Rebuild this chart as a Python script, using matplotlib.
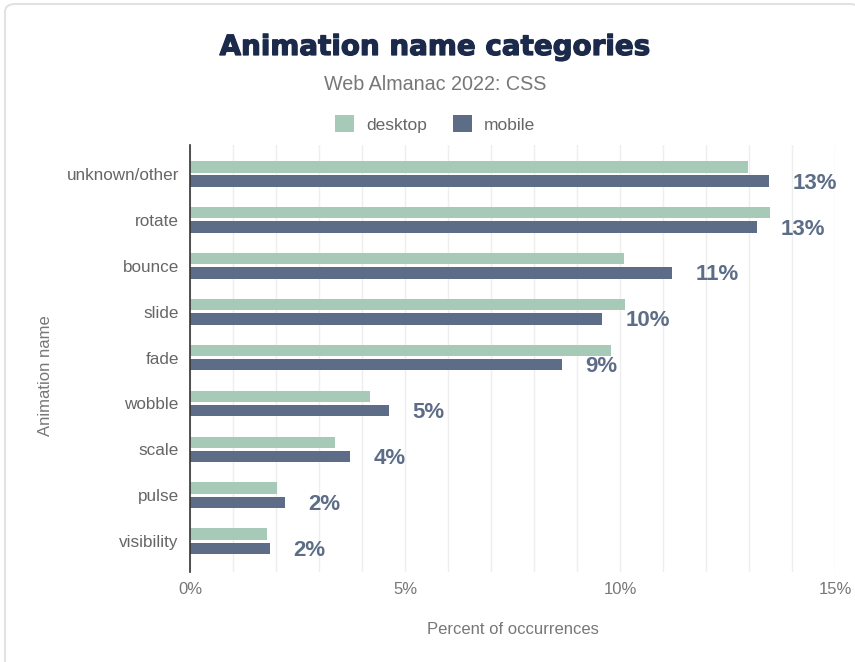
import matplotlib
matplotlib.use("Agg")
import matplotlib.pyplot as plt
import matplotlib.patheffects as pe
from matplotlib.patches import FancyBboxPatch, Patch
import numpy as np

categories = ["unknown/other", "rotate", "bounce", "slide", "fade",
              "wobble", "scale", "pulse", "visibility"]
desktop = [12.98, 13.49, 10.09, 10.11, 9.78, 4.19, 3.38, 2.02, 1.79]
mobile = [13.47, 13.19, 11.20, 9.58, 8.65, 4.62, 3.73, 2.21, 1.85]
xticks = [0, 5, 10, 15]
xtick_labels = ["0%", "5%", "10%", "15%"]

DESKTOP_C = "#a7c9b8"
MOBILE_C = "#5d6d88"
TEXT_C = "#777777"
FONT = ["Liberation Sans", "DejaVu Sans"]

plt.rcParams["font.family"] = FONT

W, H = 855, 662
fig = plt.figure(figsize=(W / 100, H / 100), dpi=100)

# card border
fig.patches.append(FancyBboxPatch((5 / W, -0.05), 1.0, 1.05 - 4 / H,
                                  boxstyle="round,pad=0,rounding_size=0.012",
                                  transform=fig.transFigure, facecolor="white",
                                  edgecolor="#e2e2e2", linewidth=1.5, zorder=-10))

left, right = 190 / W, 835 / W
bottom, top = 1 - 572 / H, 1 - 145 / H
ax = fig.add_axes([left, bottom, right - left, top - bottom])

y = np.arange(len(categories))
h = 0.25
ax.barh(y - 0.155, desktop, height=h, color=DESKTOP_C, zorder=3)
ax.barh(y + 0.155, mobile, height=h, color=MOBILE_C, zorder=3)

for yi, m in zip(y, mobile):
    ax.text(m + 0.55, yi + 0.2, f"{m:.0f}%", color=MOBILE_C, fontsize=16,
            fontweight="bold", va="center", ha="left", zorder=4)

ax.set_xlim(0, 15)
ax.set_ylim(len(categories) - 0.33, -0.63)
ax.set_yticks(y)
ax.set_yticklabels(categories, color="#666666", fontsize=12.3)
ax.set_xticks(xticks)
ax.set_xticklabels(xtick_labels, color=TEXT_C, fontsize=12)
ax.set_xticks(np.arange(0, 16, 1), minor=True)
ax.grid(axis="x", which="both", color="#eeeeee", linewidth=1, zorder=0)
ax.tick_params(axis="both", which="both", length=0)
ax.tick_params(axis="x", pad=7)
ax.tick_params(axis="y", pad=8)
for s in ["top", "right", "bottom"]:
    ax.spines[s].set_visible(False)
ax.spines["left"].set_color("#333333")
ax.spines["left"].set_linewidth(1.2)
ax.spines["left"].set_zorder(5)

ax.set_xlabel("Percent of occurrences", color=TEXT_C, fontsize=12, labelpad=18)
fig.text(46 / W, 1 - 376 / H, "Animation name", rotation=90, ha="center", va="center",
         color=TEXT_C, fontsize=12)

fig.text(435 / W, 1 - 47 / H, "Animation name categories", ha="center", va="center",
         fontsize=20, fontweight="heavy", color="#1b2a4a", family=["DejaVu Sans"],
         path_effects=[pe.withStroke(linewidth=0.9, foreground="#1b2a4a")])
fig.text(435 / W, 1 - 84 / H, "Web Almanac 2022: CSS", ha="center", va="center",
         fontsize=14.2, color="#777777")

handles = [Patch(facecolor=DESKTOP_C, label="desktop"),
           Patch(facecolor=MOBILE_C, label="mobile")]
fig.legend(handles=handles, loc="center", bbox_to_anchor=(435 / W, 1 - 124 / H),
           ncol=2, frameon=False, fontsize=12.5, handlelength=1.1, handleheight=1.1,
           columnspacing=1.5, handletextpad=0.7, labelcolor="#666666")

fig.savefig("out.png", dpi=100)
